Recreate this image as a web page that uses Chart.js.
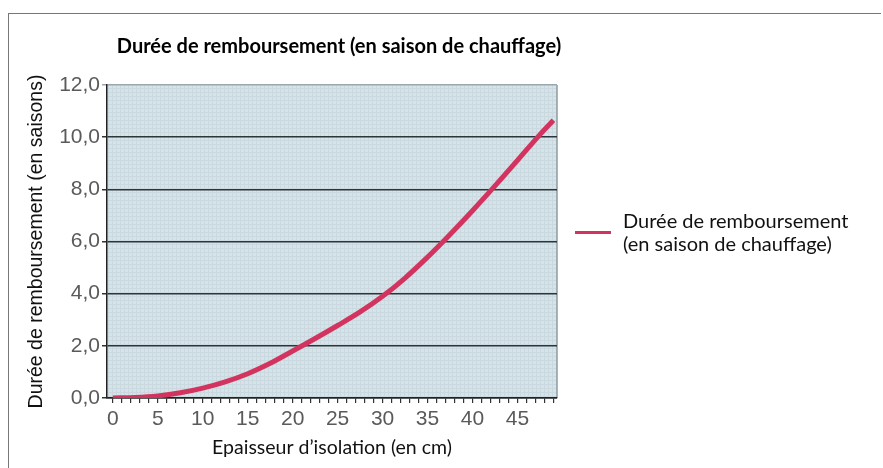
<!DOCTYPE html>
<html lang="fr">
<head>
<meta charset="utf-8">
<title>Durée de remboursement</title>
<script src="https://cdn.jsdelivr.net/npm/chart.js@4.4.0/dist/chart.umd.min.js"></script>
<style>
  html, body { margin: 0; padding: 0; background: #fff; }
  #wrap { position: absolute; left: 0; top: 0; width: 883px; height: 468px; }
  #cadre { position: absolute; left: 8px; top: 13px; width: 872px; height: 460px;
           border-left: 1.5px solid #777; border-top: 1.5px solid #777; }
  #legende { position: absolute; left: 575px; top: 209px; font-family: Lato, sans-serif;
             font-size: 20px; color: #111; line-height: 23px; }
  #legende .trait { position: absolute; left: 0; top: 22px; width: 36px; height: 3px; }
  #legende .texte { position: absolute; left: 48px; top: 0; white-space: nowrap; }
</style>
</head>
<body>
<div id="wrap">
  <div id="cadre"></div>
  <canvas id="graphe" width="883" height="468"></canvas>
  <div id="legende"></div>
</div>
<script>
  // epaisseur d'isolation (cm) et duree de remboursement (saisons)
  const epaisseurs = [0, 2.5, 5, 7.5, 10, 12.5, 15, 17.5, 20, 22.5, 25, 27.5, 30, 32.5, 35, 37.5, 40, 42.5, 45, 47.5, 49];
  const durees = [0.0, 0.02, 0.08, 0.2, 0.38, 0.62, 0.93, 1.33, 1.8, 2.28, 2.78, 3.3, 3.9, 4.6, 5.4, 6.27, 7.18, 8.13, 9.11, 10.1, 10.65];
  const nomSerie = ['Durée de remboursement', '(en saison de chauffage)'];
  const titre = 'Durée de remboursement (en saison de chauffage)';
  const titreX = 'Epaisseur d\u2019isolation (en cm)';
  const titreY = 'Durée de remboursement (en saisons)';
  const couleur = '#d3345f';

  // petit motif pointillé du fond
  const tuile = document.createElement('canvas');
  tuile.width = 4; tuile.height = 4;
  const tc = tuile.getContext('2d');
  tc.fillStyle = '#d6e3e8';
  tc.fillRect(0, 0, 4, 4);
  tc.fillStyle = '#cad9df';
  tc.fillRect(0, 0, 4, 1);
  tc.fillRect(0, 0, 1, 4);

  const fondZone = {
    id: 'fondZone',
    afterLayout(chart) {
      const t = chart.titleBlock;
      if (t) { t.left += 7; t.right += 7; }
    },
    beforeDraw(chart) {
      const a = chart.chartArea, c = chart.ctx;
      c.save();
      c.fillStyle = c.createPattern(tuile, 'repeat');
      c.fillRect(a.left, a.top, a.right - a.left, a.bottom - a.top);
      c.strokeStyle = '#8d9ca1';
      c.lineWidth = 1.5;
      c.beginPath();
      c.moveTo(a.right, a.top);
      c.lineTo(a.right, a.bottom);
      c.stroke();
      c.restore();
    }
  };

  const ctx = document.getElementById('graphe');
  const chart = new Chart(ctx, {
    type: 'line',
    data: {
      datasets: [{
        label: nomSerie.join(' '),
        data: epaisseurs.map((x, i) => ({ x: x, y: durees[i] })),
        borderColor: couleur,
        borderWidth: 5,
        pointRadius: 0,
        cubicInterpolationMode: 'monotone',
        fill: false
      }]
    },
    options: {
      responsive: false,
      animation: false,
      layout: { padding: { left: 0, right: 326, top: 0, bottom: 0 } },
      plugins: {
        legend: { display: false },
        tooltip: { enabled: false },
        title: {
          display: true,
          text: titre,
          fullSize: false,
          color: '#000',
          font: { family: 'Lato', size: 20, weight: 'bold' },
          padding: { top: 35, bottom: 26 }
        }
      },
      scales: {
        x: {
          type: 'linear',
          min: -0.65,
          max: 49.4,
          afterBuildTicks(scale) {
            const t = [];
            for (let v = 0; v <= 49; v++) t.push({ value: v });
            scale.ticks = t;
          },
          afterFit(scale) { scale.height = 70; },
          ticks: {
            autoSkip: false,
            maxRotation: 0,
            padding: 4,
            color: '#5a5a5a',
            font: { family: 'Liberation Sans', size: 21 },
            callback: (v) => (v % 5 === 0 ? String(v) : '')
          },
          grid: { drawOnChartArea: false, drawTicks: true, tickLength: 5, color: '#333', lineWidth: 1.2 },
          border: { display: true, color: '#222', width: 1.5 },
          title: {
            display: true,
            text: titreX,
            color: '#111',
            font: { family: 'Lato', size: 19.5 },
            padding: { top: 0, bottom: 9 }
          }
        },
        y: {
          min: 0,
          max: 12,
          afterFit(scale) { scale.width = 107; },
          ticks: {
            stepSize: 2,
            padding: 2,
            color: '#5a5a5a',
            font: { family: 'Liberation Sans', size: 21 },
            callback: (v) => v.toFixed(1).replace('.', ',')
          },
          grid: {
            drawTicks: true,
            tickLength: 5,
            color: (c) => (c.tick && c.tick.value === 12 ? '#9aa8ad' : '#2c3537'),
            lineWidth: 1.5
          },
          border: { display: true, color: '#222', width: 1.5 },
          title: {
            display: true,
            text: titreY,
            color: '#111',
            font: { family: 'Liberation Sans', size: 19.5 },
            padding: { top: 25, bottom: 0 }
          }
        }
      }
    },
    plugins: [fondZone]
  });

  // legende a droite, construite depuis la serie
  const leg = document.getElementById('legende');
  const trait = document.createElement('div');
  trait.className = 'trait';
  trait.style.background = chart.data.datasets[0].borderColor;
  leg.appendChild(trait);
  const txt = document.createElement('div');
  txt.className = 'texte';
  txt.innerHTML = nomSerie.join('<br>');
  leg.appendChild(txt);
</script>
</body>
</html>
